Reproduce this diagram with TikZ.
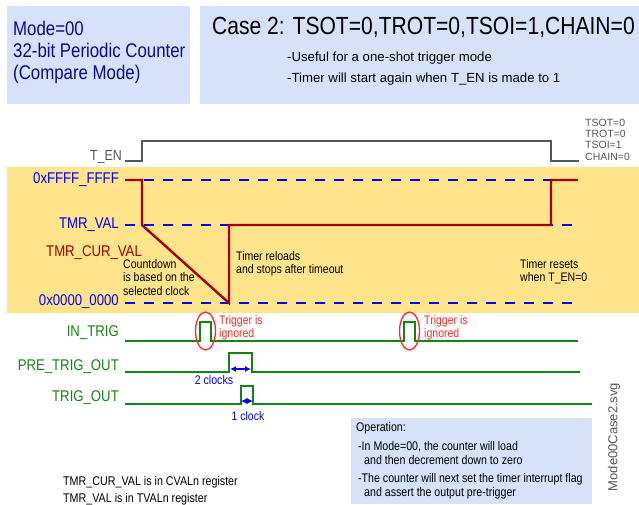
\documentclass[tikz,border=0pt]{standalone}
\usepackage{fontspec}
\setmainfont{Liberation Sans}
\newfontfamily\narrowf{Liberation Sans}[FakeStretch=0.85]
\usetikzlibrary{arrows.meta,shapes.geometric}
\definecolor{boxblue}{RGB}{213,226,250}
\definecolor{bandyel}{RGB}{255,228,140}
\definecolor{navy}{RGB}{10,10,140}
\definecolor{dblue}{RGB}{0,0,245}
\definecolor{dred}{RGB}{165,0,0}
\definecolor{wgreen}{RGB}{20,130,20}
\definecolor{tred}{RGB}{255,40,40}
\definecolor{tgray}{RGB}{85,85,85}
\tikzset{
  lbl/.style={inner sep=0pt,font=\narrowf\fontsize{15.5}{17}\selectfont},
  small/.style={inner sep=0pt,align=left,font=\narrowf\fontsize{12.4}{13.6}\selectfont},
  dashline/.style={dblue,line width=2.4pt,dash pattern=on 10pt off 9pt},
  wave/.style={wgreen,line width=2.4pt},
  cur/.style={dred,line width=2.4pt},
  ring/.style={draw=tred,ellipse,line width=1.3pt,minimum width=20pt,minimum height=38pt,inner sep=0pt},
  dim/.style={dblue,line width=1.2pt,{Latex[length=6pt,width=6pt]}-{Latex[length=6pt,width=6pt]}},
}
\begin{document}
\begin{tikzpicture}[x=1pt,y=-1pt]
\useasboundingbox (0,0) rectangle (639,504);
% top boxes
\fill[boxblue] (7,6) rectangle (190,104);
\fill[boxblue] (200,6) rectangle (639,104);
\node[anchor=west,inner sep=0pt,navy,font=\narrowf\fontsize{19.8}{22}\selectfont,align=left] (mode) at (13,52)
  {Mode=00\\32-bit Periodic Counter\\(Compare Mode)};
\node[anchor=west,inner sep=0pt,font=\narrowf\fontsize{24.8}{26}\selectfont] (title) at (212,27)
  {Case 2: TSOT=0,TROT=0,TSOI=1,CHAIN=0};
\node[anchor=west,inner sep=0pt,font=\fontsize{13.2}{21}\selectfont,align=left] (desc) at (287,68.5)
  {-Useful for a one-shot trigger mode\\-Timer will start again when T\_EN is made to 1};
% yellow band
\fill[bandyel] (7,167) rectangle (639,313);
% T_EN
\node[lbl,anchor=east,tgray,font=\narrowf\fontsize{14.6}{16}\selectfont] (ten) at (122,157) {T\_EN};
\draw[tgray,line width=2pt] (125,161) -- (142,161) -- (142,141) -- (551,141) -- (551,161) -- (579,161);
\node[anchor=west,inner sep=0pt,tgray,font=\fontsize{10.5}{11.3}\selectfont,align=left] (flags) at (585,139.5)
  {TSOT=0\\TROT=0\\TSOI=1\\CHAIN=0};
% value levels
\node[lbl,anchor=east,dblue] (ff) at (119,180) {0xFFFF\_FFFF};
\node[lbl,anchor=east,dblue] (tv) at (119,225) {TMR\_VAL};
\node[lbl,anchor=east,dblue] (zz) at (119,302) {0x0000\_0000};
\node[lbl,anchor=west,dred] (cv) at (46,253) {TMR\_CUR\_VAL};
\draw[dashline] (125,180) -- (578,180);
\draw[dashline] (125,225) -- (578,225);
\draw[dashline] (125,303) -- (578,303);
\draw[cur,line join=miter] (125,180) -- (142,180) -- (142,225) -- (229,303) -- (229,225) -- (551,225) -- (551,180) -- (578,180);
\node[small,anchor=north west] (cd) at (123,259) {Countdown\\is based on the\\selected clock};
\node[small,anchor=north west] (rl) at (236,251) {Timer reloads\\and stops after timeout};
\node[small,anchor=north west] (rs) at (520,259) {Timer resets\\when T\_EN=0};
% trigger signals
\node[lbl,anchor=east,wgreen] (it) at (119,333) {IN\_TRIG};
\node[lbl,anchor=east,wgreen] (pt) at (119,367) {PRE\_TRIG\_OUT};
\node[lbl,anchor=east,wgreen] (to) at (119,398) {TRIG\_OUT};
\draw[wave] (125,341) -- (200,341) -- (200,322) -- (211,322) -- (211,341) -- (404,341) -- (404,322) -- (415,322) -- (415,341) -- (578,341);
\draw[wave] (125,372) -- (229,372) -- (229,353) -- (252,353) -- (252,372) -- (580,372);
\draw[wave] (125,404) -- (241,404) -- (241,386) -- (253,386) -- (253,404) -- (592,404);
\node[ring] (e1) at (205.5,331) {};
\node[ring] (e2) at (409.5,331) {};
\node[small,anchor=north west,tred] (ig1) at (219,315) {Trigger is\\ignored};
\node[small,anchor=north west,tred] (ig2) at (424,315) {Trigger is\\ignored};
\coordinate (a1) at (230,369);
\coordinate (a2) at (251,369);
\draw[dim] (a1) -- (a2);
\node[inner sep=0pt,dblue,font=\narrowf\fontsize{12.5}{13}\selectfont] (c2) at (214,380) {2 clocks};
\coordinate (b1) at (241,401);
\coordinate (b2) at (253,401);
\draw[dim] (b1) -- (b2);
\node[inner sep=0pt,dblue,font=\narrowf\fontsize{12.3}{13}\selectfont] (c1) at (248,416) {1 clock};
% notes
\node[small,anchor=west,font=\narrowf\fontsize{12.6}{17}\selectfont] (notes) at (63,490.5) {TMR\_CUR\_VAL is in CVALn register\\TMR\_VAL is in TVALn register};
\fill[boxblue] (351,418) rectangle (592,504);
\node[small,anchor=west,font=\narrowf\fontsize{12.5}{13}\selectfont] (op) at (356,428) {Operation:};
\node[small,anchor=west,font=\narrowf\fontsize{12.5}{14}\selectfont] (op1) at (358,453) {-In Mode=00, the counter will load\\\hspace*{6pt}and then decrement down to zero};
\node[small,anchor=west,font=\narrowf\fontsize{12.5}{14}\selectfont] (op2) at (358,486) {-The counter will next set the timer interrupt flag\\\hspace*{6pt}and assert the output pre-trigger};
\node[inner sep=0pt,tgray,rotate=90,font=\fontsize{13}{14}\selectfont] (fn) at (614,437) {Mode00Case2.svg};
\end{tikzpicture}
\end{document}
